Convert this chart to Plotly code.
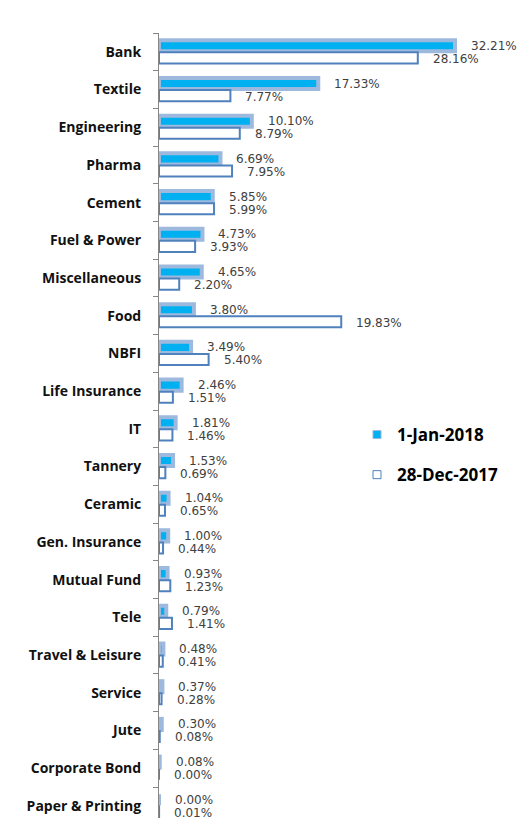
import plotly.graph_objects as go

categories = ["Bank", "Textile", "Engineering", "Pharma", "Cement", "Fuel & Power",
              "Miscellaneous", "Food", "NBFI", "Life Insurance", "IT", "Tannery",
              "Ceramic", "Gen. Insurance", "Mutual Fund", "Tele", "Travel & Leisure",
              "Service", "Jute", "Corporate Bond", "Paper & Printing"]
jan_2018 = [32.21, 17.33, 10.10, 6.69, 5.85, 4.73, 4.65, 3.80, 3.49, 2.46, 1.81, 1.53,
            1.04, 1.00, 0.93, 0.79, 0.48, 0.37, 0.30, 0.08, 0.00]
dec_2017 = [28.16, 7.77, 8.79, 7.95, 5.99, 3.93, 2.20, 19.83, 5.40, 1.51, 1.46, 0.69,
            0.65, 0.44, 1.23, 1.41, 0.41, 0.28, 0.08, 0.00, 0.01]
series_names = ["1-Jan-2018", "28-Dec-2017"]

W, H = 520, 818
L, T = 159, 33
plot_w = W - L
plot_h = H - T
px_per_pct = 9.19
slot = 37.7

fig = go.Figure()
fig.add_trace(go.Bar(
    y=categories, x=jan_2018, orientation="h", name=series_names[0],
    marker=dict(color="#00B0F0", line=dict(color="#9DB9DE", width=4)),
    showlegend=False, cliponaxis=False,
))
fig.add_trace(go.Bar(
    y=categories, x=dec_2017, orientation="h", name=series_names[1],
    marker=dict(color="#FFFFFF", line=dict(color="#4F81BD", width=2)),
    showlegend=False, cliponaxis=False,
))
# legend-only entries
fig.add_trace(go.Scatter(
    x=[None], y=[None], mode="markers", name=series_names[0], legendgroup="a",
    marker=dict(symbol="square", size=8, color="#00B0F0", line=dict(color="#9DB9DE", width=1)),
))
fig.add_trace(go.Scatter(
    x=[None], y=[None], mode="markers", name=series_names[1], legendgroup="b",
    marker=dict(symbol="square", size=8, color="#FFFFFF", line=dict(color="#4F81BD", width=1)),
))

annotations = []
for cat, v in zip(categories, jan_2018):
    annotations.append(dict(x=v, y=cat, text=f"{v:.2f}%", showarrow=False,
                            xanchor="left", yanchor="middle", xshift=14, yshift=6,
                            font=dict(family="DejaVu Sans", size=12, color="#404040")))
for cat, v in zip(categories, dec_2017):
    annotations.append(dict(x=v, y=cat, text=f"{v:.2f}%", showarrow=False,
                            xanchor="left", yanchor="middle", xshift=13, yshift=-7,
                            font=dict(family="DejaVu Sans", size=12, color="#404040")))

fig.update_layout(
    width=W, height=H,
    margin=dict(l=L, r=0, t=T, b=0, autoexpand=False),
    paper_bgcolor="white", plot_bgcolor="white",
    barmode="group", bargap=0.36, bargroupgap=0.08,
    showlegend=True,
    legend=dict(x=(357 - L) / plot_w, y=(H - 417) / plot_h, xanchor="left", yanchor="top",
                font=dict(family="Open Sans", size=17, color="#000000", weight="bold"),
                tracegroupgap=15, traceorder="grouped", bgcolor="rgba(0,0,0,0)",
                itemwidth=30),
    annotations=annotations,
    xaxis=dict(range=[0, plot_w / px_per_pct], visible=False, fixedrange=True,
               automargin=False),
    yaxis=dict(type="category", range=[-0.5 + plot_h / slot, -0.5], automargin=False,
               showline=True, linecolor="#868686", linewidth=1, fixedrange=True,
               ticks="outside", ticklen=5, tickcolor="#868686", tickson="boundaries",
               ticklabelstandoff=14,
               tickfont=dict(family="Open Sans", size=14, color="#111111", weight="bold"),
               showgrid=False, zeroline=False),
)

fig.write_html("out.html", config={"displayModeBar": False},
               post_script="document.body.style.margin='0';document.body.style.overflow='hidden';")
